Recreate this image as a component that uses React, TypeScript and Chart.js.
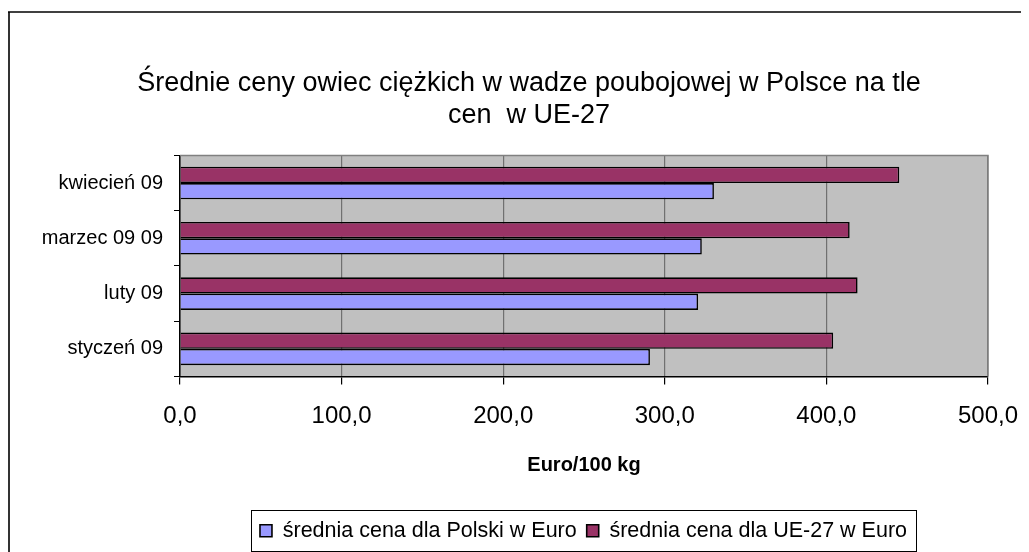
import React, { useEffect, useRef } from "react";
import { Chart, registerables } from "chart.js";

Chart.register(...registerables);

const categories = ["styczeń 09", "luty 09", "marzec 09 09", "kwiecień 09"];
const polandValues = [290.8, 320.6, 322.9, 330.4];
const euValues = [404.2, 419.3, 414.4, 445.1];
const seriesNames = ["średnia cena dla Polski w Euro", "średnia cena dla UE-27 w Euro"];
const titleLines = ["Średnie ceny owiec ciężkich w wadze poubojowej w Polsce na tle", "cen  w UE-27"];
const axisTitle = "Euro/100 kg";
const xTickValues = [0, 100, 200, 300, 400, 500];

const FONT = "'Liberation Sans', Arial, sans-serif";
const LEGEND_EXTRA = 60;

export default function App() {
  const ref = useRef<HTMLCanvasElement | null>(null);

  useEffect(() => {
    const canvas = ref.current;
    if (!canvas) return;

    const decor = {
      id: "decor",
      beforeDraw(chart: any) {
        const { ctx, chartArea: a } = chart;
        ctx.save();
        ctx.fillStyle = "#ffffff";
        ctx.fillRect(0, 0, chart.width, chart.height);
        ctx.fillStyle = "#C0C0C0";
        ctx.fillRect(a.left, a.top, a.right - a.left, a.bottom - a.top);
        ctx.restore();
      },
      beforeDatasetsDraw(chart: any) {
        const { ctx, chartArea: a } = chart;
        ctx.save();
        ctx.strokeStyle = "#808080";
        ctx.lineWidth = 1.5;
        ctx.beginPath();
        ctx.moveTo(a.left, a.top);
        ctx.lineTo(a.right, a.top);
        ctx.lineTo(a.right, a.bottom);
        ctx.stroke();
        ctx.restore();
      },
      afterLayout(chart: any) {
        const y = chart.scales.y;
        if (y) y.left = 0;
        const lg = chart.legend;
        if (!lg) return;
        lg.left = 243 - LEGEND_EXTRA;
        lg.right = 908 + LEGEND_EXTRA;
        lg.width = lg.right - lg.left;
        lg.top = 502;
        lg.bottom = 543;
        lg.height = 41;
      },
      afterDraw(chart: any) {
        const { ctx } = chart;
        const lg = chart.legend;
        ctx.save();
        ctx.strokeStyle = "#333333";
        ctx.lineWidth = 2;
        ctx.beginPath();
        ctx.moveTo(1, 4);
        ctx.lineTo(1, chart.height);
        ctx.stroke();
        ctx.strokeStyle = "#000000";
        ctx.lineWidth = 1.5;
        ctx.beginPath();
        ctx.moveTo(0, 4);
        ctx.lineTo(chart.width, 4);
        ctx.stroke();
        if (lg) {
          ctx.strokeStyle = "#000000";
          ctx.lineWidth = 1;
          ctx.strokeRect(
            lg.left + LEGEND_EXTRA + 0.5,
            lg.top + 0.5,
            lg.width - 2 * LEGEND_EXTRA,
            lg.height
          );
        }
        ctx.restore();
      },
    };

    const chart = new Chart(canvas, {
      type: "bar",
      data: {
        labels: categories,
        datasets: [
          {
            label: seriesNames[1],
            data: euValues,
            backgroundColor: "#993366",
            borderColor: "#000000",
            borderWidth: 1.6,
          },
          {
            label: seriesNames[0],
            data: polandValues,
            backgroundColor: "#9999FF",
            borderColor: "#000000",
            borderWidth: 1.6,
          },
        ],
      },
      options: {
        indexAxis: "y",
        animation: false,
        responsive: false,
        events: [],
        layout: { padding: { left: 62, right: 41, top: 0, bottom: 0 } },
        datasets: {
          bar: { categoryPercentage: 0.59, barPercentage: 1.0 },
        },
        scales: {
          x: {
            min: 0,
            max: 500,
            afterBuildTicks(scale: any) {
              scale.ticks = xTickValues.map((v) => ({ value: v }));
            },
            afterFit(scale: any) {
              scale.height = 134;
              scale.paddingLeft = 0;
              scale.paddingRight = 0;
            },
            ticks: {
              color: "#000000",
              font: { family: FONT, size: 24 },
              padding: 17,
              maxRotation: 0,
              callback: (v: any) => Number(v).toFixed(1).replace(".", ","),
            },
            grid: {
              color: "#707070",
              lineWidth: 1.2,
              tickColor: "#000000",
              tickLength: 8,
            },
            border: { color: "#000000", width: 1.5 },
            title: {
              display: true,
              text: axisTitle,
              color: "#000000",
              font: { family: FONT, size: 20, weight: "bold" },
              padding: { top: 0, bottom: 33 },
            },
          },
          y: {
            reverse: true,
            afterFit(scale: any) {
              scale.width = 110;
            },
            ticks: {
              color: "#000000",
              font: { family: FONT, size: 20 },
              padding: 11,
            },
            grid: {
              drawOnChartArea: false,
              tickColor: "#000000",
              tickLength: 6,
            },
            border: { color: "#000000", width: 1.5 },
          },
        },
        plugins: {
          title: {
            display: true,
            text: titleLines,
            color: "#000000",
            font: { family: FONT, size: 27, weight: "normal", lineHeight: 1.2 },
            padding: { top: 59, bottom: 23.6 },
          },
          legend: {
            position: "bottom",
            reverse: true,
            labels: {
              color: "#000000",
              font: { family: FONT, size: 21.5 },
              boxWidth: 12,
              boxHeight: 12,
              padding: 10,
            },
          },
          tooltip: { enabled: false },
        },
      },
      plugins: [decor],
    });

    return () => chart.destroy();
  }, []);

  return (
    <div style={{ width: 1021, height: 544 }}>
      <canvas ref={ref} width={1021} height={544} style={{ display: "block", width: 1021, height: 544 }} />
    </div>
  );
}
